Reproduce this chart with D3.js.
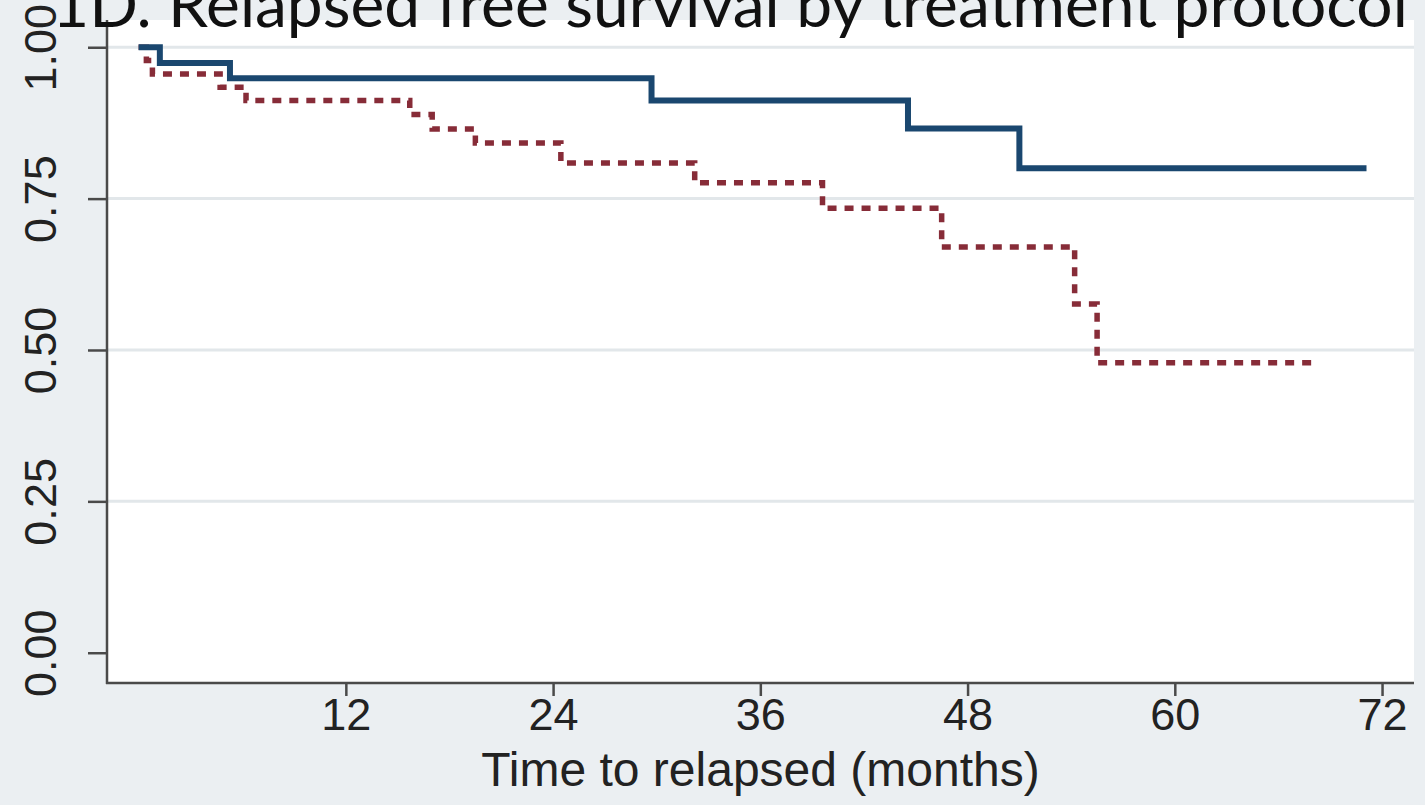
<!DOCTYPE html>
<html>
<head>
<meta charset="utf-8">
<script src="https://cdn.jsdelivr.net/npm/d3@7"></script>
<style>
  html, body { margin: 0; padding: 0; background: #ebeff2; }
  svg { display: block; }
</style>
</head>
<body>
<svg id="chart" width="1425" height="805"></svg>
<script>
// Kaplan–Meier step estimates for the two treatment protocols
const protocolATimes = [0, 1.23, 5.29, 29.7, 44.55, 51.0, 71.1];
const protocolASurv  = [1, 0.974, 0.949, 0.912, 0.866, 0.800, 0.800];

const protocolBTimes = [0, 0.45, 0.8, 4.72, 6.22, 15.7, 17.0, 19.5, 24.45, 32.2, 39.6, 46.5, 54.2, 55.5, 68.1];
const protocolBSurv  = [1, 0.978, 0.956, 0.934, 0.912, 0.889, 0.865, 0.842, 0.809, 0.776, 0.734, 0.670, 0.576, 0.479, 0.479];

const xTickValues = [12, 24, 36, 48, 60, 72];
const yTickValues = [0, 0.25, 0.5, 0.75, 1];
const yGridValues = [0.25, 0.5, 0.75, 1];

const titleText = "1D. Relapsed free survival by treatment protocol";
const xTitleText = "Time to relapsed (months)";

const W = 1425, H = 805;
const plot = { left: 107, right: 1414, top: 20, bottom: 683 };

const svg = d3.select("#chart");

svg.append("rect").attr("x", 0).attr("y", 0).attr("width", W).attr("height", H)
  .attr("fill", "#ebeff2");
svg.append("rect")
  .attr("x", plot.left).attr("y", plot.top)
  .attr("width", plot.right - plot.left).attr("height", plot.bottom - plot.top)
  .attr("fill", "#ffffff");

const x = d3.scaleLinear().domain([-1.83, 73.85]).range([plot.left, plot.right]);
const y = d3.scaleLinear().domain([-0.05, 1.045]).range([plot.bottom, plot.top]);

// horizontal grid
svg.append("g").selectAll("line").data(yGridValues).join("line")
  .attr("x1", plot.left + 1).attr("x2", plot.right)
  .attr("y1", d => y(d)).attr("y2", d => y(d))
  .attr("stroke", "#e2e7ea").attr("stroke-width", 3);

// axes
const axisColor = "#4a4a4a";
const font = "'Liberation Sans', Arial, sans-serif";

const xAxis = svg.append("g")
  .attr("transform", `translate(0,${plot.bottom})`)
  .call(d3.axisBottom(x).tickValues(xTickValues).tickSize(13).tickPadding(2).tickFormat(d3.format("d")));
xAxis.select(".domain").remove();
xAxis.selectAll(".tick line").attr("stroke", axisColor).attr("stroke-width", 2.5);
xAxis.selectAll(".tick text")
  .attr("fill", "#222").attr("font-family", font).attr("font-size", 45)
  .attr("dy", "0.71em");

const yAxis = svg.append("g")
  .attr("transform", `translate(${plot.left},0)`)
  .call(d3.axisLeft(y).tickValues(yTickValues).tickSize(19).tickFormat(d3.format(".2f")));
yAxis.select(".domain").remove();
yAxis.selectAll(".tick line").attr("stroke", axisColor).attr("stroke-width", 2.5);
yAxis.selectAll(".tick text")
  .attr("fill", "#222").attr("font-family", font).attr("font-size", 45)
  .attr("text-anchor", "middle")
  .attr("x", null).attr("dy", null)
  .attr("transform", "translate(-51,0) rotate(-90)");

// axis lines
svg.append("line")
  .attr("x1", plot.left).attr("x2", plot.left)
  .attr("y1", plot.top).attr("y2", plot.bottom + 1)
  .attr("stroke", axisColor).attr("stroke-width", 2.5);
svg.append("line")
  .attr("x1", plot.left - 1).attr("x2", plot.right)
  .attr("y1", plot.bottom).attr("y2", plot.bottom)
  .attr("stroke", axisColor).attr("stroke-width", 2.5);

// survival curves
const step = d3.line()
  .x(d => x(d[0])).y(d => y(d[1]))
  .curve(d3.curveStepAfter);

svg.append("path")
  .datum(d3.zip(protocolBTimes, protocolBSurv))
  .attr("d", step)
  .attr("fill", "none")
  .attr("stroke", "#872c38")
  .attr("stroke-width", 5.5)
  .attr("stroke-dasharray", "9,8");

svg.append("path")
  .datum(d3.zip(protocolATimes, protocolASurv))
  .attr("d", step)
  .attr("fill", "none")
  .attr("stroke", "#1a476f")
  .attr("stroke-width", 6);

// x-axis title
svg.append("text")
  .attr("x", (plot.left + plot.right) / 2).attr("y", 786)
  .attr("text-anchor", "middle")
  .attr("font-family", font).attr("font-size", 48)
  .attr("fill", "#222")
  .text(xTitleText);

// chart title, sized to span its row
const title = svg.append("text")
  .attr("x", 52).attr("y", 27)
  .attr("font-family", "Lato, 'Open Sans', sans-serif")
  .attr("font-size", 56)
  .attr("fill", "#111")
  .text(titleText);
const tw = title.node().getComputedTextLength();
title.attr("font-size", 56 * 1356 / tw);
</script>
</body>
</html>
